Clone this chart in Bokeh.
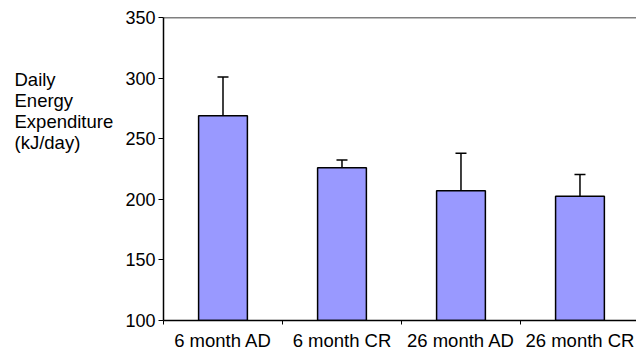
from bokeh.plotting import figure
from bokeh.layouts import row
from bokeh.models import (ColumnDataSource, Range1d, FixedTicker, Whisker, TeeHead,
                          Label, Span)
from bokeh.embed import file_html
from bokeh.resources import INLINE

categories = ["6 month AD", "6 month CR", "26 month AD", "26 month CR"]
values = [269, 226, 207, 202.5]
errors = [32, 6.5, 31, 18]
y_ticks = [100, 150, 200, 250, 300, 350]
y_label = "Daily\nEnergy\nExpenditure\n(kJ/day)"

pos = [i + 0.5 for i in range(len(categories))]
src = ColumnDataSource(dict(
    x=pos, top=values,
    upper=[v + e for v, e in zip(values, errors)],
))

FONT = "Liberation Sans"
H = 353
LW = 115  # width of the label panel

# left panel holding the horizontal, multi-line y-axis title
lf = figure(width=LW, height=H, output_backend="svg", toolbar_location=None,
            x_range=Range1d(0, LW), y_range=Range1d(0, H),
            x_axis_type=None, y_axis_type=None, min_border=0)
lf.outline_line_color = None
lf.grid.grid_line_color = None
lf.add_layout(Label(x=14, y=H - 101, x_units="screen", y_units="screen",
                    text=y_label, text_font=FONT, text_font_size="18.5px",
                    text_color="black", text_align="left", text_baseline="top",
                    text_line_height=1.0))

p = figure(width=636 - LW, height=H, output_backend="svg", toolbar_location=None,
           x_range=Range1d(0, 3.975), y_range=Range1d(100, 350),
           min_border_left=163 - LW, min_border_right=0, min_border_top=17,
           min_border_bottom=30)
p.outline_line_color = None
p.xgrid.grid_line_color = None
p.ygrid.grid_line_color = None
p.background_fill_color = "white"
p.border_fill_color = "white"

p.vbar(x="x", top="top", bottom=100, width=0.41, source=src,
       fill_color="#9999FF", line_color="black", line_width=1.5)

w = Whisker(base="x", lower="top", upper="upper", source=src,
            line_color="black", line_width=1.5,
            upper_head=TeeHead(size=11, line_color="black", line_width=1.5),
            lower_head=None)
p.add_layout(w)

p.add_layout(Span(location=350, dimension="width", line_color="black",
                  line_width=1.5))

# y axis
p.yaxis.ticker = FixedTicker(ticks=y_ticks)
p.yaxis.major_label_text_font = FONT
p.yaxis.major_label_text_font_size = "18px"
p.yaxis.major_label_text_color = "black"
p.yaxis.axis_line_color = "black"
p.yaxis.axis_line_width = 1.5
p.yaxis.major_tick_line_color = "black"
p.yaxis.major_tick_in = 0
p.yaxis.major_tick_out = 5
p.yaxis.minor_tick_line_color = None
p.yaxis.major_label_standoff = 3

# x axis
p.xaxis.ticker = FixedTicker(ticks=pos, minor_ticks=list(range(len(categories) + 1)))
p.xaxis.major_label_overrides = {x: c for x, c in zip(pos, categories)}
p.xaxis.major_label_text_font = FONT
p.xaxis.major_label_text_font_size = "18.5px"
p.xaxis.major_label_text_color = "black"
p.xaxis.axis_line_color = "black"
p.xaxis.axis_line_width = 1.5
p.xaxis.major_tick_line_color = None
p.xaxis.minor_tick_line_color = "black"
p.xaxis.minor_tick_in = 0
p.xaxis.minor_tick_out = 4
p.xaxis.major_label_standoff = 3

layout = row(lf, p, spacing=0)
open("out.html", "w").write(file_html(layout, INLINE))
